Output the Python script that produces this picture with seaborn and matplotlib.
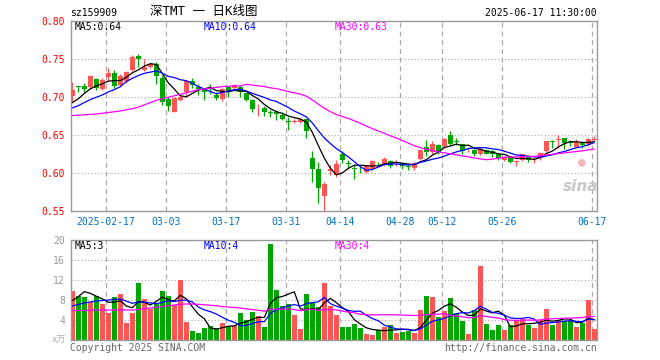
import numpy as np
import pandas as pd
import matplotlib
matplotlib.use("Agg")
import matplotlib.pyplot as plt
import seaborn as sns

# ---------------- data ----------------
opens = [0.702, 0.715, 0.715, 0.713, 0.724, 0.711, 0.727, 0.732, 0.716, 0.721,
         0.736, 0.754, 0.736, 0.740, 0.744, 0.726, 0.698, 0.680, 0.697, 0.707,
         0.722, 0.713, 0.710, 0.712, 0.703, 0.698, 0.713, 0.712, 0.714, 0.705,
         0.696, 0.684, 0.686, 0.680, 0.681, 0.677, 0.669, 0.668, 0.668, 0.671,
         0.620, 0.606, 0.570, 0.603, 0.598, 0.626, 0.614, 0.607, 0.606, 0.602,
         0.606, 0.614, 0.612, 0.616, 0.614, 0.614, 0.609, 0.607, 0.619, 0.635,
         0.628, 0.637, 0.636, 0.650, 0.642, 0.638, 0.630, 0.631, 0.626, 0.630,
         0.629, 0.625, 0.618, 0.622, 0.615, 0.618, 0.623, 0.617, 0.620, 0.629,
         0.642, 0.644, 0.647, 0.641, 0.635, 0.640, 0.638, 0.644]
highs = [0.720, 0.715, 0.719, 0.729, 0.726, 0.726, 0.738, 0.736, 0.731, 0.734,
         0.755, 0.757, 0.750, 0.745, 0.746, 0.729, 0.701, 0.701, 0.703, 0.723,
         0.725, 0.718, 0.712, 0.717, 0.707, 0.712, 0.714, 0.718, 0.716, 0.706,
         0.698, 0.691, 0.688, 0.683, 0.683, 0.680, 0.674, 0.672, 0.672, 0.672,
         0.629, 0.615, 0.589, 0.611, 0.618, 0.629, 0.618, 0.611, 0.609, 0.611,
         0.617, 0.615, 0.621, 0.617, 0.617, 0.615, 0.612, 0.615, 0.632, 0.644,
         0.642, 0.639, 0.646, 0.655, 0.646, 0.639, 0.633, 0.633, 0.633, 0.632,
         0.631, 0.626, 0.623, 0.623, 0.618, 0.626, 0.624, 0.622, 0.628, 0.643,
         0.644, 0.650, 0.647, 0.644, 0.645, 0.641, 0.646, 0.649]
lows = [0.693, 0.707, 0.707, 0.711, 0.710, 0.709, 0.722, 0.712, 0.714, 0.719,
        0.734, 0.740, 0.734, 0.738, 0.718, 0.690, 0.682, 0.680, 0.695, 0.701,
        0.712, 0.703, 0.696, 0.704, 0.696, 0.695, 0.701, 0.710, 0.701, 0.695,
        0.681, 0.676, 0.676, 0.6745, 0.670, 0.670, 0.657, 0.666, 0.666, 0.646,
        0.589, 0.561, 0.550, 0.598, 0.595, 0.614, 0.606, 0.592, 0.601, 0.600,
        0.604, 0.609, 0.610, 0.607, 0.609, 0.605, 0.604, 0.604, 0.617, 0.623,
        0.626, 0.625, 0.633, 0.637, 0.637, 0.626, 0.628, 0.623, 0.624, 0.625,
        0.622, 0.618, 0.616, 0.613, 0.610, 0.616, 0.615, 0.613, 0.618, 0.628,
        0.633, 0.633, 0.632, 0.636, 0.634, 0.633, 0.636, 0.642]
closes = [0.710, 0.714, 0.711, 0.728, 0.712, 0.723, 0.732, 0.715, 0.728, 0.733,
          0.753, 0.751, 0.740, 0.744, 0.728, 0.694, 0.689, 0.699, 0.700, 0.721,
          0.716, 0.711, 0.707, 0.711, 0.699, 0.711, 0.708, 0.716, 0.707, 0.697,
          0.684, 0.685, 0.680, 0.679, 0.678, 0.672, 0.668, 0.669, 0.671, 0.656,
          0.606, 0.581, 0.586, 0.605, 0.612, 0.618, 0.612, 0.606, 0.605, 0.609,
          0.616, 0.613, 0.619, 0.610, 0.615, 0.609, 0.608, 0.614, 0.630, 0.628,
          0.639, 0.628, 0.645, 0.639, 0.641, 0.629, 0.631, 0.625, 0.632, 0.626,
          0.625, 0.620, 0.622, 0.615, 0.6155, 0.625, 0.618, 0.618, 0.627, 0.642,
          0.641, 0.645, 0.640, 0.640, 0.641, 0.637, 0.645, 0.645]
volumes = [9.8, 8.8, 8.67, 7.67, 8.8, 7.2, 5.47, 8.67, 9.2, 3.47,
           5.47, 11.47, 8.2, 6.27, 7.2, 9.8, 8.8, 6.93, 12.0, 3.67,
           1.87, 1.33, 2.4, 2.8, 2.4, 3.33, 2.8, 2.8, 5.4, 4.0,
           5.67, 4.8, 2.67, 19.2, 10.0, 6.8, 7.2, 5.0, 2.2, 9.2,
           7.6, 6.53, 11.47, 6.8, 5.0, 2.67, 2.67, 3.2, 2.47, 1.2,
           1.0, 2.0, 2.67, 3.0, 1.47, 1.67, 1.87, 1.47, 6.0, 8.8,
           8.53, 4.67, 5.8, 8.4, 5.33, 3.8, 1.2, 6.0, 14.8, 3.2,
           2.0, 2.93, 2.0, 3.07, 4.0, 4.13, 3.07, 2.47, 4.0, 6.2,
           3.0, 4.0, 3.87, 3.87, 2.6, 3.47, 8.0, 2.2]

# moving-average values at the start of the window (history before the window)
ma5_head = [0.693, 0.698, 0.705, 0.711]
ma10_head = [0.686, 0.689, 0.693, 0.697, 0.700, 0.703, 0.707, 0.710, 0.714]
ma30_head = [0.676, 0.6765, 0.677, 0.6775, 0.678, 0.679, 0.680, 0.681, 0.682, 0.6835,
             0.685, 0.687, 0.690, 0.693, 0.696, 0.698, 0.700, 0.702, 0.704, 0.706,
             0.708, 0.710, 0.711, 0.712, 0.713, 0.714, 0.7145, 0.715, 0.715]
vma5_head = [7.9, 8.67, 9.67, 9.33]
vma10_head = [6.8, 7.1, 7.4, 7.6, 7.8, 7.9, 8.0, 8.1, 8.2]
vma30_head = [5.9, 5.9, 5.9, 5.95, 6.0, 6.0, 6.0, 6.0, 6.0, 6.0,
              6.0, 6.1, 6.25, 6.4, 6.55, 6.7, 6.85, 7.0, 7.15, 7.2,
              7.2, 7.15, 7.05, 6.95, 6.85, 6.7, 6.6, 6.5, 6.4]

date_labels = ["2025-02-17", "03-03", "03-17", "03-31", "04-14", "04-28", "05-12", "05-26", "06-17"]
date_index = [6, 16, 26, 36, 45, 55, 62, 72, 87]
price_ticks = [0.55, 0.60, 0.65, 0.70, 0.75, 0.80]
vol_ticks = [4, 8, 12, 16, 20]

code_text = "sz159909"
title_text = "深TMT 一 日K线图"
time_text = "2025-06-17 11:30:00"
price_ma_text = ["MA5:0.64", "MA10:0.64", "MA30:0.63"]
vol_ma_text = ["MA5:3", "MA10:4", "MA30:4"]

# ---------------- derived ----------------
n = len(closes)
idx = np.arange(n)
df = pd.DataFrame({"i": idx, "open": opens, "high": highs, "low": lows,
                   "close": closes, "vol": volumes})

def ma(series, w, head):
    s = series.rolling(w).mean()
    s.iloc[:w - 1] = head
    return s

df["ma5"] = ma(df["close"], 5, ma5_head)
df["ma10"] = ma(df["close"], 10, ma10_head)
df["ma30"] = ma(df["close"], 30, ma30_head)
df["vma5"] = ma(df["vol"], 5, vma5_head)
df["vma10"] = ma(df["vol"], 10, vma10_head)
df["vma30"] = ma(df["vol"], 30, vma30_head)

RED = "#FF5555"
GREEN = "#00A600"
up = df["close"] >= df["open"]
colors = np.where(up, RED, GREEN)

sns.set_theme(style="white")
plt.rcParams["font.family"] = ["DejaVu Sans Mono", "Noto Sans CJK SC"]

fig = plt.figure(figsize=(6.6, 3.6), dpi=100)
fig.patch.set_facecolor("white")

W, H = 660.0, 360.0
left, right = 70.5, 597.0
axp = fig.add_axes([left / W, 1 - 211.3 / H, (right - left) / W, (211.3 - 20.5) / H])
axv = fig.add_axes([left / W, 1 - 340.0 / H, (right - left) / W, 100.0 / H])

xlo, xhi = -0.3, 87.45
grid_x = [d - 0.38 for d in date_index]

for ax in (axp, axv):
    ax.set_facecolor("white")
    ax.set_xlim(xlo, xhi)
    for sp in ax.spines.values():
        sp.set_color("#999999")
        sp.set_linewidth(1.0)
    for gx in grid_x:
        ax.axvline(gx, color="#AAAAAA", lw=0.9, ls=(0, (4, 3)), zorder=0)

# price grid
for t in price_ticks[1:-1]:
    axp.axhline(t, color="#AAAAAA", lw=0.8, ls=(0, (1, 2)), zorder=0)
for t in vol_ticks[:-1]:
    axv.axhline(t, color="#AAAAAA", lw=0.8, ls=(0, (1, 2)), zorder=0)

# candles
bw = 0.8
axp.vlines(df["i"], df["low"], df["high"], colors=colors, lw=0.9, zorder=2)
body_low = np.minimum(df["open"], df["close"])
body_h = np.abs(df["close"] - df["open"])
axp.bar(df["i"], np.maximum(body_h, 0.0006), bottom=body_low, width=bw,
        color=colors, linewidth=0, zorder=3)

# price MAs
sns.lineplot(data=df, x="i", y="ma5", ax=axp, color="black", lw=0.9, zorder=4)
sns.lineplot(data=df, x="i", y="ma10", ax=axp, color="#0000FF", lw=0.9, zorder=4)
sns.lineplot(data=df, x="i", y="ma30", ax=axp, color="#FF00FF", lw=0.9, zorder=4)

axp.set_ylim(0.55, 0.801)
axp.set_yticks(price_ticks)
axp.set_yticklabels([f"{t:.2f}" for t in price_ticks], color="#FF0000", fontsize=7)
axp.set_xticks(grid_x)
axp.set_xticklabels(date_labels, color="#0070C0", fontsize=7)
axp.tick_params(axis="both", length=0, pad=4)
axp.set_xlabel("")
axp.set_ylabel("")

# volume
axv.bar(df["i"], df["vol"], width=bw, color=colors, linewidth=0, zorder=2)
sns.lineplot(data=df, x="i", y="vma5", ax=axv, color="black", lw=0.9, zorder=4)
sns.lineplot(data=df, x="i", y="vma10", ax=axv, color="#0000FF", lw=0.9, zorder=4)
sns.lineplot(data=df, x="i", y="vma30", ax=axv, color="#FF00FF", lw=0.9, zorder=4)
axv.set_ylim(0, 20)
axv.set_yticks(vol_ticks)
axv.set_yticklabels([str(t) for t in vol_ticks], color="#999999", fontsize=7)
axv.set_xticks([])
axv.tick_params(axis="both", length=0, pad=4)
axv.set_xlabel("")
axv.set_ylabel("")

# texts
def ftext(x, y, s, **kw):
    fig.text(x / W, 1 - y / H, s, **kw)

ftext(70, 13, code_text, fontsize=7, color="black", va="center", ha="left")
ftext(150, 12, title_text, fontsize=9, color="black", va="center", ha="left")
ftext(597, 13, time_text, fontsize=7, color="black", va="center", ha="right")

ma_cols = ["black", "#0000FF", "#FF00FF"]
ma_x = [75, 204, 335]
for s, c, x in zip(price_ma_text, ma_cols, ma_x):
    ftext(x, 27, s, fontsize=7, color=c, va="center", ha="left")
for s, c, x in zip(vol_ma_text, ma_cols, ma_x):
    ftext(x, 246, s, fontsize=7, color=c, va="center", ha="left")

ftext(66, 340, "x万", fontsize=6.5, color="#AAAAAA", va="center", ha="right")
ftext(70, 348, "Copyright 2025 SINA.COM", fontsize=7, color="#666666", va="center", ha="left")
ftext(597, 348, "http://finance.sina.com.cn", fontsize=7, color="#666666", va="center", ha="right")

# watermark
ftext(582, 162, "●", fontsize=9, color="#F4B8B8", va="center", ha="center")
ftext(581, 186, "sina", fontsize=11, color="#C8C8C8", va="center", ha="center",
      fontstyle="italic", fontweight="bold", family="DejaVu Sans")

fig.savefig("out.png", dpi=100, facecolor="white")
